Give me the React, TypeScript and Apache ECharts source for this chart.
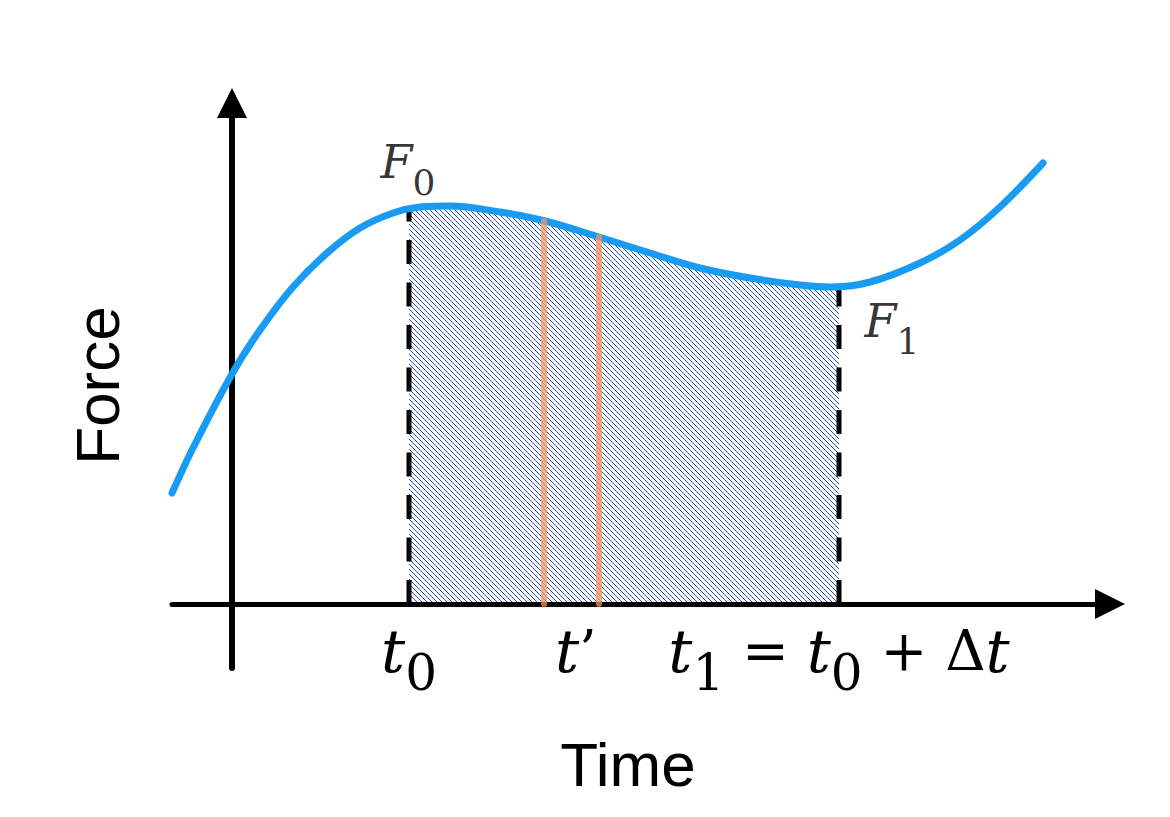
import React, { useEffect, useRef } from 'react';
import * as echarts from 'echarts';

// Curve (time, force)
const curveTime = [-0.6, -0.39, 0, 0.28, 0.61, 0.95, 1.28, 1.61, 1.88, 2.18, 2.68, 3.13, 3.67, 4.18, 4.68, 5.18, 5.68, 6.0, 6.38, 6.88, 7.28, 7.68, 8.11];
const curveForce = [1.11, 1.56, 2.3, 2.74, 3.17, 3.51, 3.76, 3.91, 3.97, 3.98, 3.92, 3.83, 3.67, 3.51, 3.36, 3.26, 3.19, 3.17, 3.22, 3.41, 3.64, 3.97, 4.41];

const t0 = 1.77;
const F0 = 3.95;
const t1 = 6.07;
const F1 = 3.17;
const tPrimeLines = [3.12, 3.67];
const tPrimeForces = [3.83, 3.67];

const tickValues = [1.77, 3.44, 6.07];
const tickLabels = [
  '{i|t}{s|0}',
  '{i|t}{n|’}{z| }',
  '{i|t}{s|1}{n| = }{i|t}{s|0}{n| + Δ}{i|t}',
];
const forceLabels = ['{F|F}{s|0}', '{F|F}{s|1}'];

const xName = 'Time';
const yName = 'Force';

function makeHatch(): HTMLCanvasElement {
  const c = document.createElement('canvas');
  const n = 5;
  c.width = n;
  c.height = n;
  const ctx = c.getContext('2d')!;
  ctx.fillStyle = '#ffffff';
  ctx.fillRect(0, 0, n, n);
  ctx.strokeStyle = 'rgba(30,70,200,0.95)';
  ctx.lineWidth = 1;
  for (let k = -1; k <= 1; k++) {
    ctx.beginPath();
    ctx.moveTo(k * n - 1, -1);
    ctx.lineTo(k * n + n + 1, n + 1);
    ctx.stroke();
  }
  return c;
}

export default function App() {
  const ref = useRef<HTMLDivElement>(null);
  useEffect(() => {
    document.body.style.margin = '0';
    if (!ref.current) return;
    const chart = echarts.init(ref.current, undefined, { renderer: 'svg' });
    const curve = curveTime.map((t, i) => [t, curveForce[i]]);
    const hatch = makeHatch();
    const yMin = -0.64;
    const yMax = 5.01;
    const serif = 'DejaVu Serif';
    const sans = 'Liberation Sans';
    const smooth = 0.35;

    const option: any = {
      animation: false,
      backgroundColor: '#ffffff',
      grid: [
        { left: 172, right: 60, top: 103, bottom: 149, containLabel: false, outerBoundsMode: 'none' },
        { left: 409, right: 331, top: 103, bottom: 149, containLabel: false, outerBoundsMode: 'none' },
      ],
      xAxis: [
        {
          type: 'value',
          gridIndex: 0,
          min: -0.6,
          max: 8.78,
          z: 2,
          axisLine: {
            show: true,
            onZero: true,
            symbol: ['none', 'triangle'],
            symbolSize: [30, 30],
            lineStyle: { color: '#000', width: 5 },
          },
          axisTick: { show: false },
          splitLine: { show: false },
          axisLabel: {
            show: true,
            customValues: tickValues,
            margin: -65,
            color: '#000',
            formatter: (v: number) => {
              const idx = tickValues.findIndex((x) => Math.abs(x - v) < 1e-6);
              return idx >= 0 ? tickLabels[idx] : '';
            },
            rich: {
              i: { fontFamily: serif, fontStyle: 'italic', fontSize: 60, color: '#000' },
              s: { fontFamily: serif, fontSize: 50, height: 50, padding: [45, 0, 0, 0], color: '#000' },
              n: { fontFamily: serif, fontSize: 56, color: '#000' },
              z: { fontFamily: serif, fontSize: 1, height: 50, padding: [45, 0, 0, 0], color: '#000' },
            },
          },
          name: xName,
          nameLocation: 'middle',
          nameGap: 65,
          nameMoveOverlap: false,
          nameTextStyle: { fontFamily: sans, fontSize: 62, color: '#000', padding: [0, 26, 0, 0] },
        },
        { type: 'value', gridIndex: 1, min: t0, max: t1, show: false },
      ],
      yAxis: [
        {
          type: 'value',
          gridIndex: 0,
          min: yMin,
          max: yMax,
          z: 2,
          axisLine: {
            show: true,
            onZero: true,
            symbol: ['none', 'triangle'],
            symbolSize: [30, 30],
            lineStyle: { color: '#000', width: 6 },
          },
          axisTick: { show: false },
          splitLine: { show: false },
          axisLabel: { show: false },
          name: yName,
          nameLocation: 'middle',
          nameGap: 44,
          nameMoveOverlap: false,
          nameRotate: 90,
          nameTextStyle: { fontFamily: sans, fontSize: 62, color: '#000' },
        },
        { type: 'value', gridIndex: 1, min: yMin, max: yMax, show: false },
      ],
      series: [
        {
          type: 'line',
          xAxisIndex: 1,
          yAxisIndex: 1,
          data: curve,
          smooth,
          symbol: 'none',
          silent: true,
          lineStyle: { width: 0, opacity: 0 },
          areaStyle: {
            color: { image: hatch, repeat: 'repeat', imageWidth: 5, imageHeight: 5 },
            opacity: 1,
          },
          z: 1,
        },
        ...[
          [t0, F0],
          [t1, F1],
        ].map(([t, f]) => ({
          type: 'line',
          xAxisIndex: 0,
          yAxisIndex: 0,
          data: [
            [t, 0],
            [t, f],
          ],
          symbol: 'none',
          silent: true,
          lineStyle: { color: '#000', width: 5, type: [24, 18.5] },
          z: 3,
        })),
        {
          type: 'line',
          xAxisIndex: 0,
          yAxisIndex: 0,
          data: curve,
          smooth,
          symbol: 'none',
          clip: false,
          silent: true,
          lineStyle: { color: '#189BF2', width: 7, cap: 'round' },
          z: 4,
        },
        ...tPrimeLines.map((t, i) => ({
          type: 'line',
          xAxisIndex: 0,
          yAxisIndex: 0,
          data: [
            [t, 0],
            [t, tPrimeForces[i]],
          ],
          symbol: 'none',
          silent: true,
          lineStyle: { color: 'rgba(245,150,90,0.75)', width: 6, cap: 'round' },
          z: 5,
        })),
        {
          type: 'scatter',
          xAxisIndex: 0,
          yAxisIndex: 0,
          symbolSize: 0,
          silent: true,
          z: 6,
          data: [
            { value: [t0, 3.98], label: { offset: [-1, -44] } },
            { value: [t1, F1], label: { offset: [53, 34] } },
          ],
          label: {
            show: true,
            position: 'inside',
            color: '#000',
            textBorderWidth: 0,
            textBorderColor: 'transparent',
            formatter: (p: any) => forceLabels[p.dataIndex],
            rich: {
              F: { fontFamily: serif, fontStyle: 'italic', fontSize: 46, color: '#000', textBorderWidth: 0 },
              s: { fontFamily: serif, fontSize: 36, height: 36, padding: [40, 0, 0, 0], color: '#000', textBorderWidth: 0 },
            },
          },
        },
      ],
    };
    chart.setOption(option);
    return () => chart.dispose();
  }, []);
  return <div ref={ref} style={{ width: 1170, height: 817 }} />;
}
